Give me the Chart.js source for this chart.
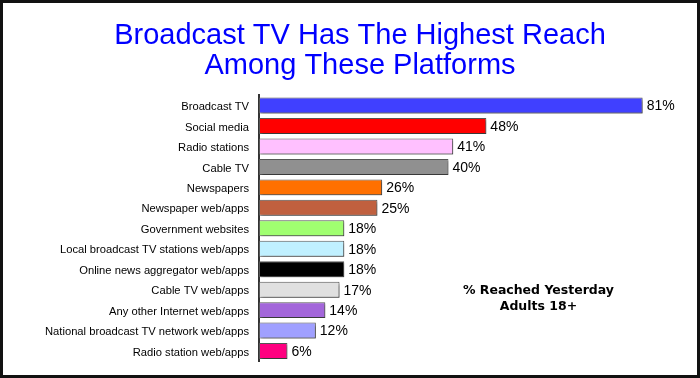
<!DOCTYPE html>
<html>
<head>
<meta charset="utf-8">
<script src="https://cdn.jsdelivr.net/npm/chart.js@4/dist/chart.umd.min.js"></script>
<style>
  html, body { margin: 0; padding: 0; background: #fff; }
  #wrap { width: 700px; height: 378px; position: relative; }
</style>
</head>
<body>
<div id="wrap"><canvas id="c" width="700" height="378"></canvas></div>
<script>
const categories = [
  "Broadcast TV",
  "Social media",
  "Radio stations",
  "Cable TV",
  "Newspapers",
  "Newspaper web/apps",
  "Government websites",
  "Local broadcast TV stations web/apps",
  "Online news aggregator web/apps",
  "Cable TV web/apps",
  "Any other Internet web/apps",
  "National broadcast TV network web/apps",
  "Radio station web/apps"
];
const reachedYesterday = [81, 48, 41, 40, 26, 25, 18, 18, 18, 17, 14, 12, 6];
const barColors = [
  "#4040FF", "#FF0000", "#FFC0FF", "#909090", "#FF7000", "#C0603F",
  "#A0FF70", "#C0F0FF", "#000000", "#E0E0E0", "#A366DA", "#A0A0FF", "#FF0080"
];
const titleLines = ["Broadcast TV Has The Highest Reach", "Among These Platforms"];
const noteLines = ["% Reached Yesterday", "Adults 18+"];

const shadowPlugin = {
  id: 'barShadow',
  beforeDatasetsDraw(chart) {
    const ctx = chart.ctx;
    ctx.save();
    ctx.shadowColor = 'rgba(0,0,0,0.35)';
    ctx.shadowOffsetX = 2;
    ctx.shadowOffsetY = 2;
    ctx.shadowBlur = 2;
  },
  afterDatasetsDraw(chart) {
    chart.ctx.restore();
    const ctx = chart.ctx;
    ctx.save();
    ctx.font = '14px "Liberation Sans", Arial, sans-serif';
    ctx.fillStyle = '#000';
    ctx.textBaseline = 'middle';
    ctx.textAlign = 'left';
    const meta = chart.getDatasetMeta(0);
    meta.data.forEach((bar, i) => {
      ctx.fillText(reachedYesterday[i] + '%', bar.x + 4, bar.y + 1);
    });
    // note
    const xs = chart.scales.x, ys = chart.scales.y;
    const cx = xs.getPixelForValue(59);
    const cy = ys.getPixelForValue(9);
    ctx.font = 'bold 12.5px "DejaVu Sans", Verdana, sans-serif';
    ctx.textAlign = 'center';
    ctx.fillText(noteLines[0], cx, cy + 1);
    ctx.fillText(noteLines[1], cx, cy + 17);
    ctx.restore();
  },
  afterDraw(chart) {
    const ctx = chart.ctx;
    ctx.save();
    ctx.strokeStyle = '#111';
    ctx.lineWidth = 3;
    ctx.strokeRect(1.5, 1.5, 697, 375);
    ctx.restore();
  }
};

new Chart(document.getElementById('c'), {
  type: 'bar',
  data: {
    labels: categories,
    datasets: [{
      data: reachedYesterday,
      backgroundColor: barColors,
      borderColor: '#555',
      borderWidth: 1,
      borderSkipped: false,
      categoryPercentage: 1,
      barPercentage: 0.78
    }]
  },
  options: {
    indexAxis: 'y',
    responsive: false,
    animation: false,
    layout: { padding: { left: 30, right: 10, top: 0, bottom: 16 } },
    plugins: {
      legend: { display: false },
      tooltip: { enabled: false },
      title: {
        display: true,
        text: titleLines,
        color: '#0000FF',
        font: { family: '"Liberation Sans", Arial, sans-serif', size: 29, weight: 'normal', lineHeight: 1.04 },
        padding: { top: 21, bottom: 14 }
      }
    },
    scales: {
      x: {
        display: false,
        min: 0,
        max: 91
      },
      y: {
        afterFit(scale) { scale.width = 229; },
        grid: { display: false, drawTicks: false },
        border: { display: true, color: '#333', width: 2 },
        ticks: {
          color: '#000',
          padding: 10,
          labelOffset: 1.5,
          font: { family: '"Liberation Sans", Arial, sans-serif', size: 11.2 }
        }
      }
    }
  },
  plugins: [shadowPlugin]
});
</script>
</body>
</html>
